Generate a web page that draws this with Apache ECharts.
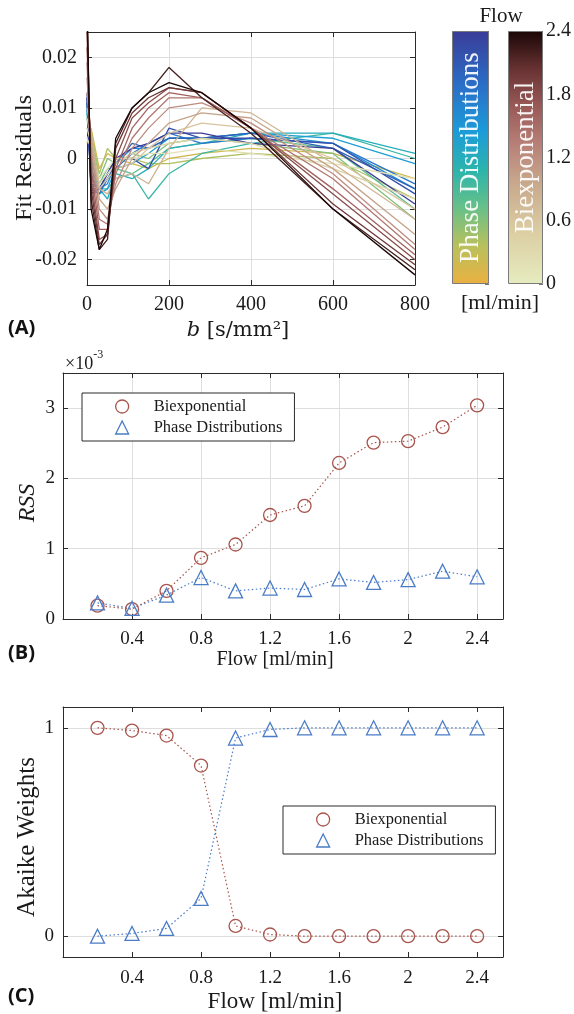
<!DOCTYPE html>
<html>
<head>
<meta charset="utf-8">
<script src="https://cdn.jsdelivr.net/npm/echarts@6/dist/echarts.min.js"></script>
<style>
  html, body { margin: 0; padding: 0; background: #fff; }
  #chart { width: 574px; height: 1014px; }
</style>
</head>
<body>
<div id="chart"></div>
<script>
// ---- data ----
const bValues = [0, 10, 30, 50, 70, 110, 150, 200, 280, 400, 600, 800];
const flows = [0.2, 0.4, 0.6, 0.8, 1.0, 1.2, 1.4, 1.6, 1.8, 2.0, 2.2, 2.4];

// fit residuals, one row per flow (panel A)
const biexpResiduals = [
  [0.004, 0.002, -0.004, -0.002, 0.000, 0.000, 0.001, 0.001, 0.002, 0.001, -0.001, -0.004],
  [0.006, 0.003, -0.005, -0.003, -0.001, 0.001, 0.002, 0.003, 0.004, 0.003, -0.002, -0.008],
  [0.008, 0.004, -0.006, -0.004, -0.002, -0.001, 0.002, 0.005, 0.007, 0.006, 0.000, -0.010],
  [0.010, 0.005, -0.006, -0.007, -0.004, -0.003, -0.005, 0.002, 0.010, 0.009, -0.001, -0.012],
  [0.013, 0.004, -0.008, -0.010, -0.006, 0.000, 0.003, 0.007, 0.009, 0.008, -0.002, -0.015],
  [0.016, 0.002, -0.010, -0.012, -0.005, 0.002, 0.006, 0.010, 0.011, 0.007, -0.003, -0.017],
  [0.019, 0.000, -0.012, -0.013, -0.003, 0.004, 0.008, 0.012, 0.012, 0.006, -0.004, -0.018],
  [0.022, -0.002, -0.014, -0.014, -0.002, 0.006, 0.010, 0.013, 0.012, 0.006, -0.006, -0.019],
  [0.025, -0.004, -0.016, -0.015, 0.000, 0.008, 0.011, 0.014, 0.013, 0.006, -0.007, -0.020],
  [0.028, -0.006, -0.017, -0.015, 0.002, 0.009, 0.012, 0.014, 0.013, 0.006, -0.009, -0.021],
  [0.030, -0.008, -0.018, -0.016, 0.003, 0.010, 0.013, 0.018, 0.012, 0.005, -0.010, -0.022],
  [0.032, -0.010, -0.018, -0.014, 0.004, 0.010, 0.013, 0.015, 0.013, 0.006, -0.010, -0.023]
];
const phaseResiduals = [
  [0.003, 0.006, -0.002, 0.001, 0.000, -0.001, -0.002, 0.000, 0.001, 0.002, 0.001, -0.004],
  [0.004, 0.005, -0.003, 0.002, 0.000, 0.000, -0.001, -0.001, 0.000, 0.001, 0.000, -0.008],
  [0.006, 0.004, -0.004, 0.000, -0.001, 0.001, 0.000, 0.003, 0.004, 0.003, 0.001, -0.012],
  [0.008, 0.002, -0.005, -0.002, -0.002, -0.003, -0.001, 0.002, 0.003, 0.004, 0.002, -0.010],
  [0.009, 0.000, -0.006, -0.006, -0.004, -0.003, -0.008, -0.003, 0.001, 0.003, 0.005, 0.000],
  [0.010, -0.002, -0.006, -0.008, -0.003, -0.004, -0.002, 0.002, 0.003, 0.005, 0.005, 0.001],
  [0.010, -0.003, -0.007, -0.006, -0.002, -0.001, 0.001, 0.004, 0.004, 0.005, 0.004, -0.001],
  [0.011, -0.004, -0.006, -0.005, -0.001, 0.002, 0.002, 0.004, 0.004, 0.005, 0.003, -0.006],
  [0.011, -0.005, -0.006, -0.004, -0.002, 0.001, 0.003, 0.005, 0.003, 0.004, 0.003, -0.005],
  [0.012, -0.006, -0.007, -0.004, -0.001, 0.003, 0.002, 0.004, 0.004, 0.005, 0.002, -0.006],
  [0.012, -0.006, -0.006, -0.003, 0.000, 0.000, -0.002, 0.006, 0.004, 0.004, 0.003, -0.007],
  [0.013, -0.007, -0.006, -0.003, 0.000, 0.002, 0.003, 0.005, 0.005, 0.003, 0.002, -0.009]
];

// RSS in units of 1e-3 (panel B)
const rssBiexp = [0.19, 0.14, 0.40, 0.87, 1.06, 1.48, 1.61, 2.22, 2.51, 2.53, 2.73, 3.04];
const rssPhase = [0.23, 0.15, 0.34, 0.59, 0.40, 0.44, 0.42, 0.57, 0.52, 0.56, 0.68, 0.60];

// Akaike weights (panel C)
const akaikeBiexp = [1.0, 0.987, 0.963, 0.819, 0.049, 0.008, 0.0, 0.0, 0.0, 0.0, 0.0, 0.0];
const akaikePhase = [0.0, 0.013, 0.037, 0.181, 0.951, 0.992, 1.0, 1.0, 1.0, 1.0, 1.0, 1.0];

// tick labels
const bTicks = [0, 200, 400, 600, 800];
const residualTicks = [-0.02, -0.01, 0, 0.01, 0.02];
const flowTicks = [0.4, 0.8, 1.2, 1.6, 2, 2.4];
const rssTicks = [0, 1, 2, 3];
const akaikeTicks = [0, 1];
const colorbarMax = 2.4;

// ---- styling ----
const SERIF = 'Liberation Serif';
const AXIS = '#2b2b2b';
const GRIDC = '#dedede';
const BROWN = '#a8544c';
const BLUE = '#4a7cc8';

const phaseStops = [[0, '#eab040'], [0.15, '#b9c05c'], [0.3, '#68c088'], [0.45, '#2cb4ac'],
  [0.6, '#1c9cd8'], [0.78, '#2a70c8'], [1, '#3a3c98']];
const biexpStops = [[0, '#e6ecc0'], [0.2, '#dccfa4'], [0.4, '#c8a88c'], [0.55, '#b88078'],
  [0.7, '#9a5a58'], [0.85, '#683232'], [1, '#1a0606']];

function hexToRgb(h) {
  return [1, 3, 5].map(i => parseInt(h.slice(i, i + 2), 16));
}
function sampleMap(stops, t) {
  for (let i = 1; i < stops.length; i++) {
    if (t <= stops[i][0]) {
      const a = stops[i - 1], b = stops[i];
      const f = (t - a[0]) / (b[0] - a[0]);
      const ca = hexToRgb(a[1]), cb = hexToRgb(b[1]);
      const c = ca.map((v, k) => Math.round(v + (cb[k] - v) * f));
      return 'rgb(' + c.join(',') + ')';
    }
  }
  return stops[stops.length - 1][1];
}
function gradient(stops) {
  return {
    type: 'linear', x: 0, y: 1, x2: 0, y2: 0,
    colorStops: stops.map(s => ({ offset: s[0], color: s[1] }))
  };
}

function boxAxes(gridIndex, xCfg, yCfg, showVGrid, showHGrid, xTicks, yTicks, fs, xMargin, yMargin) {
  const tick = { show: true, inside: true, length: 5, lineStyle: { color: AXIS } };
  const line = { show: true, onZero: false, lineStyle: { color: AXIS, width: 1 } };
  const lab = { fontFamily: SERIF, fontSize: fs, color: '#1a1a1a' };
  const xs = [
    Object.assign({ type: 'value', gridIndex, position: 'bottom', axisLine: line,
      axisTick: Object.assign({ customValues: xTicks }, tick),
      axisLabel: Object.assign({ customValues: xTicks, margin: xMargin }, lab),
      splitLine: { show: showVGrid, lineStyle: { color: GRIDC } } }, xCfg),
    Object.assign({ type: 'value', gridIndex, position: 'top', axisLine: line,
      axisTick: Object.assign({ customValues: xTicks }, tick),
      axisLabel: { show: false }, splitLine: { show: false } }, xCfg)
  ];
  const ys = [
    Object.assign({ type: 'value', gridIndex, position: 'left', axisLine: line,
      axisTick: Object.assign({ customValues: yTicks }, tick),
      axisLabel: Object.assign({ customValues: yTicks, margin: yMargin }, lab),
      splitLine: { show: showHGrid, lineStyle: { color: GRIDC } } }, yCfg),
    Object.assign({ type: 'value', gridIndex, position: 'right', axisLine: line,
      axisTick: Object.assign({ customValues: yTicks }, tick),
      axisLabel: { show: false }, splitLine: { show: false } }, yCfg)
  ];
  return { xs, ys };
}

const chart = echarts.init(document.getElementById('chart'), null, { renderer: 'canvas' });

const grids = [
  { left: 87, top: 32, width: 328, height: 253 },   // A
  { left: 452, top: 31, width: 37, height: 253 },   // colorbar phase
  { left: 508, top: 31, width: 38, height: 253 },   // colorbar biexp
  { left: 63, top: 373, width: 440, height: 246 },  // B
  { left: 63, top: 707, width: 440, height: 250 }   // C
];

const A = boxAxes(0, { min: 0, max: 800 }, { min: -0.025, max: 0.025 }, true, true, bTicks, residualTicks, 20, 10, 10);
const B = boxAxes(3, { min: 0, max: 2.55 }, { min: 0, max: 3.5 }, true, true, flowTicks, rssTicks, 19, 11, 8);
const C = boxAxes(4, { min: 0, max: 2.55 }, { min: -0.1, max: 1.1 }, false, true, flowTicks, akaikeTicks, 19, 12, 9);

// colorbar axes
const cbX = [1, 2].map(g => ({ type: 'category', gridIndex: g, data: ['c'],
  axisLine: { show: false }, axisTick: { show: false }, axisLabel: { show: false } }));
const cbY = [1, 2].map(g => ({ type: 'value', gridIndex: g, min: 0, max: colorbarMax, interval: 0.6,
  position: 'right', splitLine: { show: false }, axisLine: { show: false },
  axisTick: { show: true, inside: true, length: 4, lineStyle: { color: '#777' } },
  axisLabel: { show: g === 2, margin: 3, fontFamily: SERIF, fontSize: 20, color: '#1a1a1a' } }));

const xAxes = [].concat(A.xs, cbX, B.xs, C.xs);
const yAxes = [].concat(A.ys, cbY, B.ys, C.ys);
// indices: A x 0,1 ; cb x 2,3 ; B x 4,5 ; C x 6,7 (same for y)

const series = [];
phaseResiduals.forEach((row, i) => {
  series.push({ type: 'line', xAxisIndex: 0, yAxisIndex: 0, showSymbol: false, silent: true,
    lineStyle: { width: 1.3, color: sampleMap(phaseStops, flows[i] / colorbarMax) },
    data: bValues.map((b, k) => [b, row[k]]) });
});
biexpResiduals.forEach((row, i) => {
  series.push({ type: 'line', xAxisIndex: 0, yAxisIndex: 0, showSymbol: false, silent: true,
    lineStyle: { width: 1.3, color: sampleMap(biexpStops, flows[i] / colorbarMax) },
    data: bValues.map((b, k) => [b, row[k]]) });
});

// colorbars
[['Phase Distributions', phaseStops, 2], ['Biexponential', biexpStops, 3]].forEach(([txt, stops, ax]) => {
  series.push({ type: 'bar', xAxisIndex: ax, yAxisIndex: ax, barWidth: '100%', silent: true,
    data: [colorbarMax],
    itemStyle: { color: gradient(stops), borderColor: '#7a7a7a', borderWidth: 1 },
    label: { show: true, position: 'inside', rotate: 90, formatter: txt,
      fontFamily: SERIF, fontSize: 27, color: 'rgba(255,255,255,0.93)' } });
});

function markerSeries(name, values, xi, sym, color) {
  return { type: 'line', name, xAxisIndex: xi, yAxisIndex: xi,
    data: flows.map((f, k) => [f, values[k]]),
    symbol: sym, symbolSize: sym === 'triangle' ? 14 : 13, showAllSymbol: true,
    lineStyle: { color, width: 1.2, type: [1.5, 2.5] },
    itemStyle: { color: 'rgba(255,255,255,0)', borderColor: color, borderWidth: 1.3 } };
}
series.push(markerSeries('Biexponential', rssBiexp, 4, 'circle', BROWN));
series.push(markerSeries('Phase Distributions', rssPhase, 4, 'triangle', BLUE));
series.push(markerSeries('Biexponential', akaikeBiexp, 6, 'circle', BROWN));
series.push(markerSeries('Phase Distributions', akaikePhase, 6, 'triangle', BLUE));

function legendAt(left, top) {
  return {
    orient: 'vertical', left, top, padding: [5, 12, 5, 33], itemGap: 4,
    itemWidth: 13, itemHeight: 13, selectedMode: false,
    borderColor: AXIS, borderWidth: 1, backgroundColor: '#fff',
    textStyle: { fontFamily: SERIF, fontSize: 16.5, color: '#1a1a1a', padding: [0, 0, 0, 20] },
    data: [
      { name: 'Biexponential', icon: 'circle',
        itemStyle: { color: 'rgba(255,255,255,0)', borderColor: BROWN, borderWidth: 1.3 } },
      { name: 'Phase Distributions', icon: 'triangle',
        itemStyle: { color: 'rgba(255,255,255,0)', borderColor: BLUE, borderWidth: 1.3 } }
    ]
  };
}

const titleFont = { fontFamily: SERIF, fill: '#1a1a1a' };
const graphic = [
  { type: 'text', left: 8, top: 318, style: { text: '(A)', font: 'bold 20px "Open Sans"', fill: '#111' } },
  { type: 'text', left: 8, top: 643, style: { text: '(B)', font: 'bold 20px "Open Sans"', fill: '#111' } },
  { type: 'text', left: 8, top: 986, style: { text: '(C)', font: 'bold 20px "Open Sans"', fill: '#111' } },
  { type: 'text', x: 25, y: 158, rotation: Math.PI / 2,
    style: Object.assign({ text: 'Fit Residuals', fontSize: 24, align: 'center', verticalAlign: 'middle' }, titleFont) },
  { type: 'text', x: 238, y: 331,
    style: { text: '{i|b} [s/mm²]', align: 'center', verticalAlign: 'middle', fill: '#1a1a1a',
      fontFamily: 'DejaVu Serif', fontSize: 21,
      rich: { i: { fontFamily: 'DejaVu Serif', fontStyle: 'italic', fontSize: 21, fill: '#1a1a1a' } } } },
  { type: 'text', x: 501, y: 16,
    style: Object.assign({ text: 'Flow', fontSize: 21, align: 'center', verticalAlign: 'middle' }, titleFont) },
  { type: 'text', x: 500, y: 303,
    style: Object.assign({ text: '[ml/min]', fontSize: 22, align: 'center', verticalAlign: 'middle' }, titleFont) },
  { type: 'text', x: 65, y: 361,
    style: { text: '{n|×10}{s|-3}', verticalAlign: 'middle', fill: '#1a1a1a',
      rich: {
        n: { fontFamily: SERIF, fontSize: 18, lineHeight: 24, verticalAlign: 'bottom', fill: '#1a1a1a' },
        s: { fontFamily: SERIF, fontSize: 12, lineHeight: 24, verticalAlign: 'top', fill: '#1a1a1a' }
      } } },
  { type: 'text', x: 28, y: 503, rotation: Math.PI / 2,
    style: Object.assign({ text: 'RSS', fontSize: 24, fontStyle: 'italic', align: 'center', verticalAlign: 'middle' }, titleFont) },
  { type: 'text', x: 275, y: 660,
    style: Object.assign({ text: 'Flow [ml/min]', fontSize: 20, align: 'center', verticalAlign: 'middle' }, titleFont) },
  { type: 'text', x: 27, y: 837, rotation: Math.PI / 2,
    style: Object.assign({ text: 'Akaike Weights', fontSize: 25, align: 'center', verticalAlign: 'middle' }, titleFont) },
  { type: 'text', x: 275, y: 1002,
    style: Object.assign({ text: 'Flow [ml/min]', fontSize: 23, align: 'center', verticalAlign: 'middle' }, titleFont) }
];

chart.setOption({
  animation: false,
  backgroundColor: '#fff',
  grid: grids,
  xAxis: xAxes,
  yAxis: yAxes,
  legend: [legendAt(82, 393), legendAt(283, 806)],
  graphic,
  series
});
</script>
</body>
</html>
